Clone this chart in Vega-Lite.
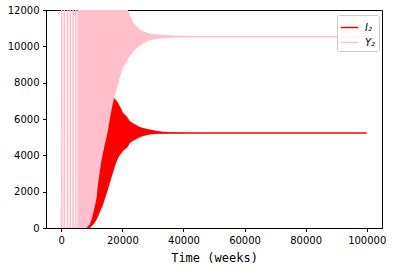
{
  "$schema": "https://vega.github.io/schema/vega-lite/v6.json",
  "width": 336,
  "height": 218,
  "autosize": "none",
  "padding": {"left": 46, "top": 10, "right": 16, "bottom": 48},
  "background": "white",
  "config": {
    "view": {"stroke": "black", "strokeWidth": 1},
    "axis": {"labelFont": "DejaVu Sans", "labelFontSize": 10, "labelColor": "black", "domainColor": "black", "tickColor": "black", "tickSize": 3.5, "labelPadding": 3.5, "grid": false, "zindex": 1, "labelOverlap": false, "labelFlush": false, "labelBound": false}
  },
  "datasets": {
    "pinkband": [
      {"t": 5280, "lo": 0, "hi": 12000},
      {"t": 8262, "lo": 0, "hi": 12000},
      {"t": 9340, "lo": 60, "hi": 12000},
      {"t": 9900, "lo": 150, "hi": 12000},
      {"t": 10980, "lo": 400, "hi": 12000},
      {"t": 11540, "lo": 600, "hi": 12000},
      {"t": 12070, "lo": 850, "hi": 12000},
      {"t": 13180, "lo": 1400, "hi": 12000},
      {"t": 13700, "lo": 1600, "hi": 12000},
      {"t": 14260, "lo": 1900, "hi": 12000},
      {"t": 15340, "lo": 2500, "hi": 12000},
      {"t": 15900, "lo": 2800, "hi": 12000},
      {"t": 16460, "lo": 3200, "hi": 12000},
      {"t": 17310, "lo": 7100, "hi": 12000},
      {"t": 17540, "lo": 7300, "hi": 12000},
      {"t": 18098, "lo": 7620, "hi": 12000},
      {"t": 18620, "lo": 7900, "hi": 12000},
      {"t": 19180, "lo": 8300, "hi": 12000},
      {"t": 19740, "lo": 8600, "hi": 12000},
      {"t": 20260, "lo": 8850, "hi": 12000},
      {"t": 21377, "lo": 9150, "hi": 12000},
      {"t": 21803, "lo": 9300, "hi": 12000},
      {"t": 22460, "lo": 9450, "hi": 11700},
      {"t": 23541, "lo": 9700, "hi": 11300},
      {"t": 24656, "lo": 9900, "hi": 11100},
      {"t": 25738, "lo": 10050, "hi": 10926},
      {"t": 26820, "lo": 10150, "hi": 10830},
      {"t": 29016, "lo": 10330, "hi": 10700},
      {"t": 31213, "lo": 10400, "hi": 10665},
      {"t": 32300, "lo": 10430, "hi": 10655},
      {"t": 33377, "lo": 10460, "hi": 10640},
      {"t": 35574, "lo": 10485, "hi": 10610},
      {"t": 36656, "lo": 10495, "hi": 10600},
      {"t": 39934, "lo": 10512, "hi": 10585},
      {"t": 41049, "lo": 10518, "hi": 10580},
      {"t": 45410, "lo": 10527, "hi": 10550},
      {"t": 50328, "lo": 10530, "hi": 10535}
    ],
    "redband": [
      {"t": 8262, "lo": 0, "hi": 0},
      {"t": 9340, "lo": 0, "hi": 200},
      {"t": 9900, "lo": 80, "hi": 457},
      {"t": 10980, "lo": 300, "hi": 1190},
      {"t": 11540, "lo": 457, "hi": 1650},
      {"t": 12070, "lo": 650, "hi": 2479},
      {"t": 13180, "lo": 1100, "hi": 3763},
      {"t": 13700, "lo": 1284, "hi": 4150},
      {"t": 14260, "lo": 1600, "hi": 4600},
      {"t": 15340, "lo": 2150, "hi": 5416},
      {"t": 15900, "lo": 2479, "hi": 6000},
      {"t": 16460, "lo": 2800, "hi": 6518},
      {"t": 17310, "lo": 3250, "hi": 7162},
      {"t": 17540, "lo": 3394, "hi": 7120},
      {"t": 18098, "lo": 3650, "hi": 7000},
      {"t": 18620, "lo": 3850, "hi": 6887},
      {"t": 19180, "lo": 4000, "hi": 6700},
      {"t": 19740, "lo": 4132, "hi": 6520},
      {"t": 20260, "lo": 4250, "hi": 6336},
      {"t": 21377, "lo": 4400, "hi": 6150},
      {"t": 21803, "lo": 4470, "hi": 6050},
      {"t": 22460, "lo": 4680, "hi": 5873},
      {"t": 23541, "lo": 4800, "hi": 5770},
      {"t": 24656, "lo": 4900, "hi": 5660},
      {"t": 25738, "lo": 5000, "hi": 5565},
      {"t": 26820, "lo": 5060, "hi": 5510},
      {"t": 29016, "lo": 5150, "hi": 5416},
      {"t": 31213, "lo": 5185, "hi": 5350},
      {"t": 32300, "lo": 5200, "hi": 5322},
      {"t": 33377, "lo": 5208, "hi": 5305},
      {"t": 35574, "lo": 5215, "hi": 5270},
      {"t": 36656, "lo": 5218, "hi": 5260},
      {"t": 39934, "lo": 5222, "hi": 5240},
      {"t": 41049, "lo": 5224, "hi": 5238},
      {"t": 45410, "lo": 5228, "hi": 5232},
      {"t": 50328, "lo": 5230, "hi": 5230}
    ],
    "spikes": [
      {"t": 0, "v": 1050},
      {"t": 20, "v": 0},
      {"t": 120, "v": 0},
      {"t": 150, "v": 30000},
      {"t": 180, "v": 0},
      {"t": 954, "v": 0},
      {"t": 984, "v": 30000},
      {"t": 1014, "v": 0},
      {"t": 2036, "v": 0},
      {"t": 2066, "v": 30000},
      {"t": 2096, "v": 0},
      {"t": 2921, "v": 0},
      {"t": 2951, "v": 30000},
      {"t": 2981, "v": 0},
      {"t": 3839, "v": 0},
      {"t": 3869, "v": 30000},
      {"t": 3899, "v": 0},
      {"t": 4724, "v": 0},
      {"t": 4754, "v": 30000},
      {"t": 4784, "v": 0},
      {"t": 5300, "v": 0}
    ],
    "tails": [
      {"series": "I₂", "t": 26000, "v": 5230},
      {"series": "I₂", "t": 100000, "v": 5230},
      {"series": "Y₂", "t": 26000, "v": 10530},
      {"series": "Y₂", "t": 100000, "v": 10530}
    ]
  },
  "encoding": {
    "x": {"field": "t", "type": "quantitative", "scale": {"domain": [-5000, 105000], "nice": false, "zero": false},
      "axis": {"values": [0, 20000, 40000, 60000, 80000, 100000], "format": "d", "title": "Time (weeks)", "titleFont": "DejaVu Sans Mono", "titleFontSize": 12, "titleFontWeight": "normal", "titleColor": "black", "titlePadding": 7}}
  },
  "layer": [
    {
      "data": {"name": "pinkband"},
      "mark": {"type": "area", "color": "#ffc0cb", "clip": true, "opacity": 1},
      "encoding": {
        "y": {"field": "hi", "type": "quantitative", "scale": {"domain": [0, 12000], "nice": false},
          "axis": {"values": [0, 2000, 4000, 6000, 8000, 10000, 12000], "format": "d", "title": null}},
        "y2": {"field": "lo"}
      }
    },
    {
      "data": {"name": "spikes"},
      "mark": {"type": "line", "color": "#ffc0cb", "strokeWidth": 1.5, "clip": true},
      "encoding": {"y": {"field": "v", "type": "quantitative", "axis": {"values": [0, 2000, 4000, 6000, 8000, 10000, 12000], "format": "d", "title": null}}}
    },
    {
      "data": {"name": "redband"},
      "mark": {"type": "area", "color": "#ff0000", "clip": true, "opacity": 1},
      "encoding": {"y": {"field": "hi", "type": "quantitative", "axis": {"values": [0, 2000, 4000, 6000, 8000, 10000, 12000], "format": "d", "title": null}}, "y2": {"field": "lo"}}
    },
    {
      "data": {"name": "tails"},
      "mark": {"type": "line", "strokeWidth": 1.5, "clip": true},
      "encoding": {
        "y": {"field": "v", "type": "quantitative", "axis": {"values": [0, 2000, 4000, 6000, 8000, 10000, 12000], "format": "d", "title": null}},
        "color": {"field": "series", "type": "nominal", "scale": {"domain": ["I₂", "Y₂"], "range": ["#ff0000", "#ffc0cb"]},
          "legend": {"title": null, "orient": "none", "legendX": 291, "legendY": 5, "symbolType": "stroke", "symbolSize": 300, "symbolStrokeWidth": 1.5,
            "labelFont": "DejaVu Sans", "labelFontSize": 10, "labelFontStyle": "italic", "labelColor": "black", "labelOffset": 6,
            "padding": 3, "rowPadding": 0, "strokeColor": "#cccccc", "fillColor": "rgba(255,255,255,0.8)", "cornerRadius": 2, "zindex": 2}}
      }
    }
  ]
}
